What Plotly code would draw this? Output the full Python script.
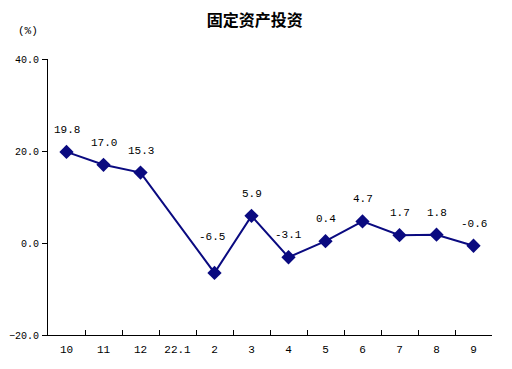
import plotly.graph_objects as go

categories = ["10", "11", "12", "22.1", "2", "3", "4", "5", "6", "7", "8", "9"]
values = [19.8, 17.0, 15.3, None, -6.5, 5.9, -3.1, 0.4, 4.7, 1.7, 1.8, -0.6]
title = "固定资产投资"
unit = "(%)"

color = "#0A0A80"
font = "Noto Sans CJK SC, DejaVu Sans, sans-serif"
mono = "Liberation Mono, DejaVu Sans Mono, monospace"

# label placement style: default offset above the point, with a few tweaks
label_yshift = {4: 36}
label_xshift = {4: -3}

fig = go.Figure()
fig.add_trace(go.Scatter(
    x=categories, y=values, mode="lines+markers",
    line=dict(color=color, width=2),
    marker=dict(symbol="diamond", size=11, color=color),
    connectgaps=True, cliponaxis=False,
))

annotations = [dict(text=f"{v:.1f}", x=i, y=v, xref="x", yref="y",
                    showarrow=False, yshift=label_yshift.get(i, 22),
                    xshift=label_xshift.get(i, 0), yanchor="middle",
                    font=dict(size=11, family=mono, color="black"))
               for i, v in enumerate(values) if v is not None]
annotations.append(dict(text=unit, xref="paper", yref="paper", x=-0.045, y=1.1,
                        xanchor="center", yanchor="middle",
                        showarrow=False, font=dict(size=11, family=mono)))

# page has an 8px body margin, so margins are shifted to compensate
fig.update_layout(
    width=512, height=369,
    margin=dict(l=40, r=28, t=51, b=42),
    paper_bgcolor="white", plot_bgcolor="white",
    showlegend=False,
    font=dict(family=font, size=11, color="black"),
    title=dict(text=title, x=0.482, xref="container", xanchor="center",
               y=0.967, yref="container", yanchor="middle",
               font=dict(size=16, family=font, color="black", weight="bold")),
    annotations=annotations,
)
fig.update_xaxes(type="category", categoryorder="array", categoryarray=categories,
                 range=[-0.5, len(categories) - 0.5], automargin=False,
                 showline=True, linecolor="black", linewidth=1,
                 ticks="inside", tickson="boundaries", ticklen=5, tickcolor="black",
                 ticklabelstandoff=4,
                 showgrid=False, zeroline=False, tickfont=dict(size=11, family=mono))
fig.update_yaxes(range=[-20, 40], dtick=20, tickformat=".1f", automargin=False,
                 showline=True, linecolor="black", linewidth=1,
                 ticks="outside", ticklen=5, tickcolor="black", ticklabelstandoff=1,
                 showgrid=False, zeroline=False, tickfont=dict(size=10, family=mono))

fig.write_html("out.html")
